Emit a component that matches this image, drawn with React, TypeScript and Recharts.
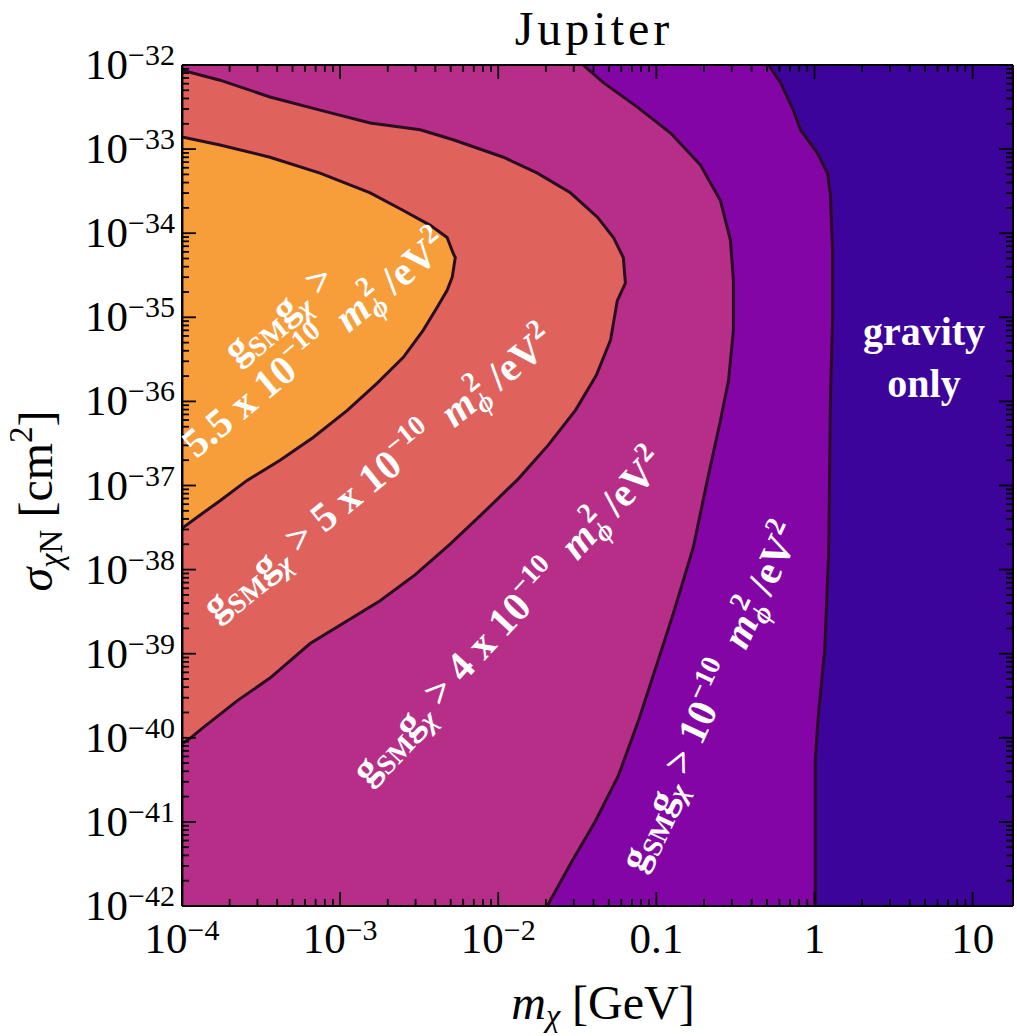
import React from 'react';
import { ComposedChart, Area, XAxis, YAxis } from 'recharts';

// Axis ranges (dark-matter mass in GeV, cross-section in cm^2)
const M_MIN = 1e-4;
const M_MAX = 18;
const SIGMA_MIN = 1e-42;
const SIGMA_MAX = 1e-32;

const MASS_DECADES = [1e-4, 1e-3, 1e-2, 0.1, 1, 10];
const MASS_TICK_LABELS = [
  { base: '10', exp: '−4' },
  { base: '10', exp: '−3' },
  { base: '10', exp: '−2' },
  { base: '0.1', exp: '' },
  { base: '1', exp: '' },
  { base: '10', exp: '' },
];
const SIGMA_DECADES = [1e-42, 1e-41, 1e-40, 1e-39, 1e-38, 1e-37, 1e-36, 1e-35, 1e-34, 1e-33, 1e-32];
const SIGMA_TICK_EXPONENTS = ['−42', '−41', '−40', '−39', '−38', '−37', '−36', '−35', '−34', '−33', '−32'];
const MINOR_STEPS = [2, 3, 4, 5, 6, 7, 8, 9];

// Contour g_SM g_χ = 5.5e-10 m_φ²/eV²
const ORANGE_MASS = [1e-4, 1.74e-4, 3.6e-4, 7.46e-4, 1.55e-3, 2.51e-3, 3.72e-3, 4.75e-3, 5.19e-3, 5.35e-3, 5.12e-3, 4.75e-3, 4.11e-3, 3.35e-3, 2.51e-3, 1.71e-3, 1.11e-3, 6.75e-4, 4.17e-4, 2.58e-4, 1.74e-4, 1.24e-4, 1e-4];
const ORANGE_SIGMA = [1.39e-33, 1.12e-33, 8.0e-34, 5.18e-34, 3.02e-34, 1.86e-34, 1.24e-34, 8.9e-35, 5.75e-35, 5.13e-35, 3.02e-35, 2.09e-35, 1.32e-35, 7.0e-36, 3.34e-36, 1.64e-36, 7.8e-37, 3.72e-37, 2.0e-37, 1.15e-37, 6.6e-38, 4.17e-38, 3.09e-38];

// Contour g_SM g_χ = 5e-10 m_φ²/eV²
const SALMON_MASS = [1e-4, 1.74e-4, 3.6e-4, 7.46e-4, 1.55e-3, 3.21e-3, 5.19e-3, 1.08e-2, 1.77e-2, 2.86e-2, 4.24e-2, 5.35e-2, 6.18e-2, 6.37e-2, 5.66e-2, 5.13e-2, 4.17e-2, 3.09e-2, 2.07e-2, 1.34e-2, 8.28e-3, 5.0e-3, 2.99e-3, 1.79e-3, 6.46e-4, 3.6e-4, 2.23e-4, 1.36e-4, 1.12e-4, 1e-4];
const SALMON_SIGMA = [8.7e-33, 6.6e-33, 4.17e-33, 2.91e-33, 2.04e-33, 1.7e-33, 1.29e-33, 8.0e-34, 5.18e-34, 3.02e-34, 1.55e-34, 8.9e-35, 5.13e-35, 2.54e-35, 1.58e-35, 5.37e-36, 2.04e-36, 7.94e-37, 3.02e-37, 1.2e-37, 5.0e-38, 2.04e-38, 8.7e-39, 4.27e-39, 1.32e-39, 5.13e-40, 2.75e-40, 1.32e-40, 9.8e-41, 8.5e-41];

// Contour g_SM g_χ = 4e-10 m_φ²/eV²
const MAGENTA_MASS = [3.45e-2, 4.62e-2, 7.59e-2, 1.23e-1, 1.9e-1, 2.54e-1, 2.94e-1, 3.07e-1, 3.07e-1, 2.86e-1, 2.54e-1, 2.1e-1, 1.71e-1, 1.28e-1, 1.01e-1, 7.69e-2, 5.75e-2, 4.11e-2, 2.86e-2, 2.04e-2];
const MAGENTA_SIGMA = [1e-32, 6.17e-33, 3.16e-33, 1.55e-33, 6.46e-34, 2.45e-34, 8.3e-35, 2.75e-35, 7.08e-36, 1.78e-36, 5.89e-37, 1.15e-37, 1.82e-38, 3.02e-39, 7.59e-40, 1.58e-40, 3.55e-41, 1.02e-41, 3.16e-42, 1e-42];

// Contour g_SM g_χ = 1e-10 m_φ²/eV²
const PURPLE_MASS = [5.12e-1, 6.1e-1, 7.36e-1, 8.15e-1, 1.045, 1.21, 1.26, 1.3, 1.3, 1.26, 1.23, 1.16, 1.06, 1.01, 1.01];
const PURPLE_SIGMA = [1e-32, 6.17e-33, 2.88e-33, 1.7e-33, 8.9e-34, 5.13e-34, 2.82e-34, 6.31e-35, 9.12e-36, 1.02e-36, 1.7e-38, 1.1e-39, 1.95e-40, 5.37e-41, 1e-42];

const COLORS = {
  gravity: '#3c049a',
  purple: '#8405a6',
  magenta: '#b72e89',
  salmon: '#e0625c',
  orange: '#f79d3a',
  contour: '#2a0d22',
};

// Each band spans from the left edge of the plot out to its contour
const band = (mass: number[], sigma: number[]) =>
  sigma.map((s, i) => ({ sigma: s, m: [M_MIN, mass[i]] }));

const gravityData = [
  { sigma: SIGMA_MAX, m: [M_MIN, M_MAX] },
  { sigma: SIGMA_MIN, m: [M_MIN, M_MAX] },
];
const purpleData = band(PURPLE_MASS, PURPLE_SIGMA);
const magentaData = band(MAGENTA_MASS, MAGENTA_SIGMA);
const salmonData = band(SALMON_MASS, SALMON_SIGMA);
const orangeData = band(ORANGE_MASS, ORANGE_SIGMA);

const withMinors = (decades: number[], max: number) => [
  ...decades,
  ...decades.flatMap((d) => MINOR_STEPS.map((k) => k * d)).filter((v) => v <= max),
];
const MASS_TICKS = withMinors(MASS_DECADES, M_MAX);
const SIGMA_TICKS = withMinors(SIGMA_DECADES, SIGMA_MAX);

const SERIF = '"Liberation Serif", "Times New Roman", serif';
const MAJOR_LEN = 14;
const MINOR_LEN = 7;
const TICK_FONT = 43;
const TICK_SUP = 30;

const massTick = (side: 'bottom' | 'top') => (p: any) => {
  const v = p.payload.value;
  const i = MASS_DECADES.indexOf(v);
  const len = i >= 0 ? MAJOR_LEN : MINOR_LEN;
  const dir = side === 'bottom' ? -1 : 1;
  const lab = i >= 0 && side === 'bottom' ? MASS_TICK_LABELS[i] : null;
  return (
    <g>
      <line x1={p.x} x2={p.x} y1={p.y} y2={p.y + dir * len} stroke="#000" strokeWidth={1.8} />
      {lab && (
        <text x={p.x} y={p.y + 47} textAnchor="middle" fontFamily={SERIF} fontSize={TICK_FONT} fill="#000">
          <tspan>{lab.base}</tspan>
          {lab.exp && (
            <tspan fontSize={TICK_SUP} dy={-13}>
              {lab.exp}
            </tspan>
          )}
        </text>
      )}
    </g>
  );
};

const sigmaTick = (side: 'left' | 'right') => (p: any) => {
  const v = p.payload.value;
  const i = SIGMA_DECADES.indexOf(v);
  const len = i >= 0 ? MAJOR_LEN : MINOR_LEN;
  const dir = side === 'left' ? 1 : -1;
  return (
    <g>
      <line x1={p.x} x2={p.x + dir * len} y1={p.y} y2={p.y} stroke="#000" strokeWidth={1.8} />
      {i >= 0 && side === 'left' && (
        <text x={p.x - 7} y={p.y + 14} textAnchor="end" fontFamily={SERIF} fontSize={TICK_FONT} fill="#000">
          <tspan>10</tspan>
          <tspan fontSize={TICK_SUP} dy={-14}>
            {SIGMA_TICK_EXPONENTS[i]}
          </tspan>
        </text>
      )}
    </g>
  );
};

const SUB = 28;

// "g_SM g_χ > "
const CouplingLhs = () => (
  <>
    <tspan>g</tspan>
    <tspan fontSize={SUB} dy={8}>SM</tspan>
    <tspan dy={-8}>g</tspan>
    <tspan fontSize={SUB} dy={8} fontStyle="italic">χ</tspan>
    <tspan dy={-8}>{' > '}</tspan>
  </>
);

// "<prefix>10^−10  m_φ²/eV²"
const CouplingRhs = ({ prefix }: { prefix: string }) => (
  <>
    <tspan>{prefix}10</tspan>
    <tspan fontSize={SUB} dy={-17}>−10</tspan>
    <tspan dy={17}>{'  '}</tspan>
    <tspan fontStyle="italic">m</tspan>
    <tspan fontSize={SUB} dy={8} fontStyle="italic">ϕ</tspan>
    <tspan fontSize={SUB} dx={-13} dy={-25}>2</tspan>
    <tspan dy={17}>{' /eV'}</tspan>
    <tspan fontSize={SUB} dy={-17}>2</tspan>
  </>
);

const labelStyle: React.SVGProps<SVGTextElement> = {
  fontFamily: SERIF,
  fontSize: 41,
  fontWeight: 'bold',
  fill: '#fff',
  textAnchor: 'middle',
  style: { whiteSpace: 'pre' },
};

const Annotations = () => (
  <svg width={1017} height={1036} style={{ position: 'absolute', left: 0, top: 0, pointerEvents: 'none' }}>
    <text x={594} y={45} textAnchor="middle" fontFamily={SERIF} fontSize={48} letterSpacing={4} fill="#000">
      Jupiter
    </text>

    <text x={603} y={1019} textAnchor="middle" fontFamily={SERIF} fontSize={48} fill="#000" style={{ whiteSpace: 'pre' }}>
      <tspan fontStyle="italic">m</tspan>
      <tspan fontSize={32} dy={7} fontStyle="italic">χ</tspan>
      <tspan dy={-7}>{' [GeV]'}</tspan>
    </text>

    <text transform="translate(52,501) rotate(-90)" textAnchor="middle" fontFamily={SERIF} fontSize={48} fill="#000" style={{ whiteSpace: 'pre' }}>
      <tspan fontStyle="italic">σ</tspan>
      <tspan fontSize={33} dy={10} fontStyle="italic">χ</tspan>
      <tspan fontSize={33}>N</tspan>
      <tspan dy={-10}>{' [cm'}</tspan>
      <tspan fontSize={33} dy={-20}>2</tspan>
      <tspan dy={20}>]</tspan>
    </text>

    <g transform="translate(316,345) rotate(-39.5)">
      <text x={-4} y={-35} {...labelStyle}>
        <CouplingLhs />
      </text>
      <text x={0} y={12} {...labelStyle}>
        <CouplingRhs prefix="5.5 x " />
      </text>
    </g>

    <g transform="translate(379,474) rotate(-39)">
      <text x={0} y={12} {...labelStyle}>
        <CouplingLhs />
        <CouplingRhs prefix="5 x " />
      </text>
    </g>

    <g transform="translate(509,617) rotate(-47)">
      <text x={0} y={12} {...labelStyle}>
        <CouplingLhs />
        <CouplingRhs prefix="4 x " />
      </text>
    </g>

    <g transform="translate(711,697) rotate(-65)">
      <text x={0} y={12} {...labelStyle}>
        <CouplingLhs />
        <CouplingRhs prefix="" />
      </text>
    </g>

    <text x={924} y={345} {...labelStyle} fontSize={40}>gravity</text>
    <text x={924} y={397} {...labelStyle} fontSize={40}>only</text>
  </svg>
);

const axisLine = { stroke: '#000', strokeWidth: 2 };

export default function App() {
  return (
    <div style={{ position: 'absolute', left: 0, top: 0, width: 1017, height: 1036, background: '#fff' }}>
      <ComposedChart
        width={1017}
        height={1036}
        layout="vertical"
        margin={{ top: 64, right: 3, bottom: 129, left: 181 }}
      >
        <XAxis
          xAxisId="mass"
          type="number"
          scale="log"
          domain={[M_MIN, M_MAX]}
          allowDataOverflow
          orientation="bottom"
          height={1}
          ticks={MASS_TICKS}
          interval={0}
          tickSize={0}
          tickMargin={0}
          tickLine={false}
          axisLine={axisLine}
          tick={massTick('bottom')}
        />
        <XAxis
          xAxisId="massTop"
          type="number"
          scale="log"
          domain={[M_MIN, M_MAX]}
          allowDataOverflow
          orientation="top"
          height={1}
          ticks={MASS_TICKS}
          interval={0}
          tickSize={0}
          tickMargin={0}
          tickLine={false}
          axisLine={axisLine}
          tick={massTick('top')}
        />
        <YAxis
          yAxisId="sigma"
          dataKey="sigma"
          type="number"
          scale="log"
          reversed
          domain={[SIGMA_MIN, SIGMA_MAX]}
          allowDataOverflow
          orientation="left"
          width={1}
          ticks={SIGMA_TICKS}
          interval={0}
          tickSize={0}
          tickMargin={0}
          tickLine={false}
          axisLine={axisLine}
          tick={sigmaTick('left')}
        />
        <YAxis
          yAxisId="sigmaRight"
          dataKey="sigma"
          type="number"
          scale="log"
          reversed
          domain={[SIGMA_MIN, SIGMA_MAX]}
          allowDataOverflow
          orientation="right"
          width={1}
          ticks={SIGMA_TICKS}
          interval={0}
          tickSize={0}
          tickMargin={0}
          tickLine={false}
          axisLine={axisLine}
          tick={sigmaTick('right')}
        />
        <Area xAxisId="mass" yAxisId="sigma" data={gravityData} dataKey="m" type="linear" fill={COLORS.gravity} fillOpacity={1} stroke="none" dot={false} activeDot={false} isAnimationActive={false} />
        <Area xAxisId="mass" yAxisId="sigma" data={purpleData} dataKey="m" type="linear" fill={COLORS.purple} fillOpacity={1} stroke={COLORS.contour} strokeWidth={3} dot={false} activeDot={false} isAnimationActive={false} />
        <Area xAxisId="mass" yAxisId="sigma" data={magentaData} dataKey="m" type="linear" fill={COLORS.magenta} fillOpacity={1} stroke={COLORS.contour} strokeWidth={3} dot={false} activeDot={false} isAnimationActive={false} />
        <Area xAxisId="mass" yAxisId="sigma" data={salmonData} dataKey="m" type="linear" fill={COLORS.salmon} fillOpacity={1} stroke={COLORS.contour} strokeWidth={3} dot={false} activeDot={false} isAnimationActive={false} />
        <Area xAxisId="mass" yAxisId="sigma" data={orangeData} dataKey="m" type="linear" fill={COLORS.orange} fillOpacity={1} stroke={COLORS.contour} strokeWidth={3} dot={false} activeDot={false} isAnimationActive={false} />
      </ComposedChart>
      <Annotations />
    </div>
  );
}
